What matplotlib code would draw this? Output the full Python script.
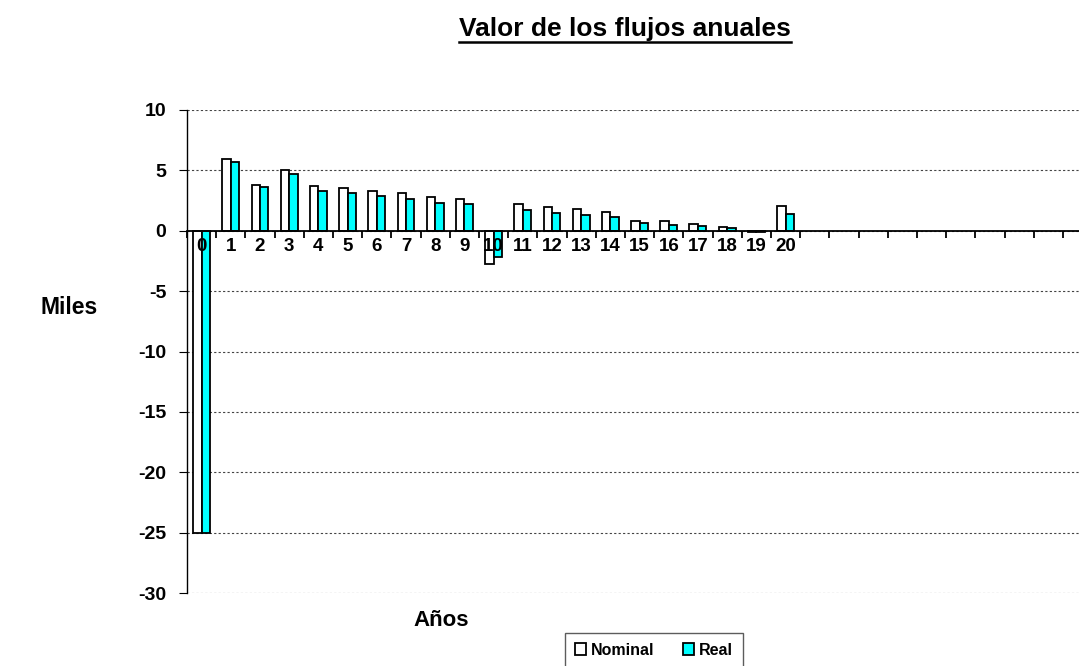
import numpy as np
import matplotlib.pyplot as plt
from matplotlib.patches import Patch
from matplotlib.lines import Line2D

plt.rcParams['font.family'] = ['Liberation Sans', 'DejaVu Sans']
plt.rcParams['font.weight'] = 'bold'

years = list(range(21))
n_slots = 31  # the category axis goes on past year 20, empty
nominal = [-25.0, 5.92, 3.80, 4.99, 3.72, 3.53, 3.33, 3.14, 2.78, 2.67,
           -2.75, 2.20, 1.98, 1.76, 1.52, 0.77, 0.77, 0.58, 0.33, -0.08, 2.04]
real = [-25.0, 5.73, 3.64, 4.74, 3.31, 3.14, 2.86, 2.67, 2.31, 2.20,
        -2.20, 1.74, 1.49, 1.32, 1.10, 0.61, 0.50, 0.41, 0.22, -0.08, 1.35]
y_ticks = [10, 5, 0, -5, -10, -15, -20, -25, -30]

fig = plt.figure(figsize=(10.79, 6.66), dpi=100)
ax = fig.add_axes([187 / 1079, 1 - 593 / 666, 1 - 187 / 1079, (593 - 110) / 666])

x = np.arange(len(years))
w = 0.29
ax.bar(x - w / 2, nominal, w, color='white', edgecolor='black', linewidth=1.3, zorder=3)
ax.bar(x + w / 2, real, w, color='#00FFFF', edgecolor='black', linewidth=1.3, zorder=3)

ax.set_ylim(-30, 10)
ax.set_xlim(-0.5, 30.05)
ax.set_yticks(y_ticks)
ax.set_yticklabels([str(v) for v in y_ticks], fontsize=14, fontweight='bold')
ax.yaxis.grid(True, linestyle=(0, (2, 2)), color='#444444', linewidth=0.8)
ax.set_axisbelow(True)

# category axis sits on the zero line, its labels drawn over the bars
ax.spines['bottom'].set_position(('data', 0))
ax.spines['bottom'].set_linewidth(1.3)
ax.spines['bottom'].set_zorder(4)
ax.spines['left'].set_linewidth(1.0)
ax.spines['top'].set_visible(False)
ax.spines['right'].set_visible(False)
ax.set_xticks(x)
ax.set_xticklabels([str(v) for v in years], fontsize=13.5, fontweight='bold')
ax.set_xticks(np.arange(n_slots) - 0.5, minor=True)
ax.tick_params(axis='x', which='major', length=0, pad=5)
ax.tick_params(axis='x', which='minor', length=5, width=1.3, direction='out')
ax.tick_params(axis='y', length=6, direction='out', pad=9)
ax.xaxis.set_zorder(5)

# title, underlined
title = fig.text(625 / 1079, 1 - 29 / 666, 'Valor de los flujos anuales', ha='center', va='center',
                 fontsize=19, fontweight='bold')
fig.canvas.draw()
bb = title.get_window_extent().transformed(fig.transFigure.inverted())
fig.add_artist(Line2D([bb.x0, bb.x1], [bb.y0 - 0.001, bb.y0 - 0.001], color='black', linewidth=1.8,
                      transform=fig.transFigure))

fig.text(69 / 1079, 1 - 307 / 666, 'Miles', ha='center', va='center', fontsize=16.5, fontweight='bold')
fig.text(441 / 1079, 1 - 620 / 666, 'Años', ha='center', va='center', fontsize=16, fontweight='bold')

handles = [Patch(facecolor='white', edgecolor='black', linewidth=1.3, label='Nominal'),
           Patch(facecolor='#00FFFF', edgecolor='black', linewidth=1.3, label='Real')]
leg = fig.legend(handles=handles, loc='upper center', bbox_to_anchor=(654 / 1079, 1 - 625 / 666),
                 ncol=2, frameon=True, fancybox=False, edgecolor='#333333',
                 handlelength=0.7, handleheight=0.7, handletextpad=0.3, columnspacing=1.8,
                 borderpad=0.6, prop={'weight': 'bold', 'size': 11.5})
leg.get_frame().set_linewidth(1.0)

fig.savefig('out.png', dpi=100)
